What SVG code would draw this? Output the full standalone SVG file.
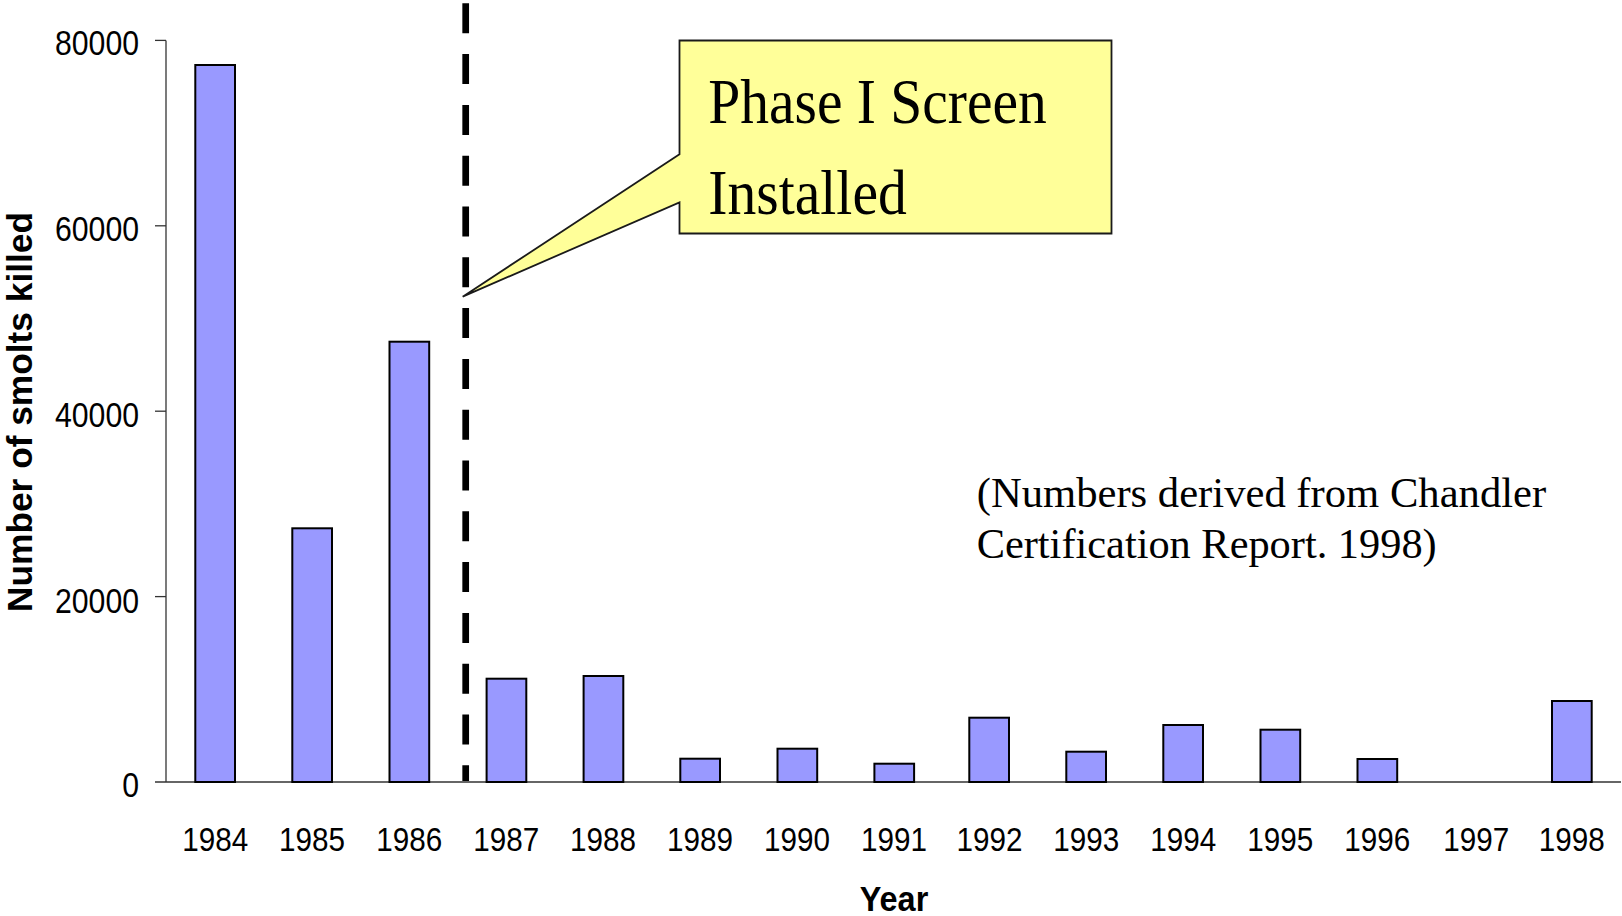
<svg xmlns="http://www.w3.org/2000/svg" width="1622" height="916" viewBox="0 0 1622 916">
  <style>
    .axis { stroke: #333333; stroke-width: 1.3; fill: none; }
    .bar { fill: #9999FF; stroke: #000000; stroke-width: 2; }
    .tick { font-family: "Liberation Sans", Arial, sans-serif; font-size: 35px; fill: #000000; text-anchor: end; }
    .year { font-family: "Liberation Sans", Arial, sans-serif; font-size: 34px; fill: #000000; text-anchor: middle; }
    .title { font-family: "Liberation Sans", Arial, sans-serif; font-weight: bold; font-size: 35px; fill: #000000; text-anchor: middle; }
    .serif { font-family: "Liberation Serif", "Times New Roman", serif; fill: #000000; }
    .marker-line { stroke: #000000; stroke-width: 6.7; stroke-dasharray: 30 20.8; fill: none; }
    .callout-shape { fill: #FFFF99; stroke: #1a1a1a; stroke-width: 1.8; stroke-linejoin: miter; }
  </style>

  <rect width="1622" height="916" fill="#ffffff"/>

  <!-- axes and ticks -->
  <g id="axes">
    <line class="axis" x1="166" y1="40.4" x2="166" y2="782"/>
    <line class="axis" x1="155" y1="782" x2="1621" y2="782"/>
    <line class="axis" x1="155" y1="40.4" x2="166" y2="40.4"/>
    <line class="axis" x1="155" y1="225.8" x2="166" y2="225.8"/>
    <line class="axis" x1="155" y1="411.2" x2="166" y2="411.2"/>
    <line class="axis" x1="155" y1="596.6" x2="166" y2="596.6"/>
    <text class="tick" x="139" y="55" textLength="84" lengthAdjust="spacingAndGlyphs">80000</text>
    <text class="tick" x="139" y="241" textLength="84" lengthAdjust="spacingAndGlyphs">60000</text>
    <text class="tick" x="139" y="426.5" textLength="84" lengthAdjust="spacingAndGlyphs">40000</text>
    <text class="tick" x="139" y="612.5" textLength="84" lengthAdjust="spacingAndGlyphs">20000</text>
    <text class="tick" x="139" y="797" textLength="16.8" lengthAdjust="spacingAndGlyphs">0</text>
  </g>

  <!-- axis titles -->
  <g id="axis-titles">
    <text class="title" transform="translate(31.7,412) rotate(-90)" x="0" y="0" textLength="400" lengthAdjust="spacingAndGlyphs">Number of smolts killed</text>
    <text class="title" x="894" y="910.5" textLength="68.5" lengthAdjust="spacingAndGlyphs">Year</text>
  </g>

  <!-- bars, one per year -->
  <g id="bars">
    <rect id="bar-1984" class="bar" x="195.3" y="65" width="39.7" height="717"/>
    <rect id="bar-1985" class="bar" x="292.3" y="528.3" width="39.7" height="253.7"/>
    <rect id="bar-1986" class="bar" x="389.5" y="341.7" width="39.7" height="440.3"/>
    <rect id="bar-1987" class="bar" x="486.6" y="678.7" width="39.7" height="103.3"/>
    <rect id="bar-1988" class="bar" x="583.6" y="676" width="39.7" height="106"/>
    <rect id="bar-1989" class="bar" x="680.3" y="758.7" width="39.7" height="23.3"/>
    <rect id="bar-1990" class="bar" x="777.5" y="748.7" width="39.7" height="33.3"/>
    <rect id="bar-1991" class="bar" x="874.4" y="763.7" width="39.7" height="18.3"/>
    <rect id="bar-1992" class="bar" x="969.3" y="717.7" width="39.7" height="64.3"/>
    <rect id="bar-1993" class="bar" x="1066.3" y="751.7" width="39.7" height="30.3"/>
    <rect id="bar-1994" class="bar" x="1163.3" y="725" width="39.7" height="57"/>
    <rect id="bar-1995" class="bar" x="1260.5" y="729.7" width="39.7" height="52.3"/>
    <rect id="bar-1996" class="bar" x="1357.5" y="759" width="39.7" height="23"/>
    <rect id="bar-1998" class="bar" x="1552" y="701" width="39.7" height="81"/>
  </g>

  <!-- year labels -->
  <g id="year-labels">
    <text class="year" x="215.2" y="850.7" textLength="66" lengthAdjust="spacingAndGlyphs">1984</text>
    <text class="year" x="312.1" y="850.7" textLength="66" lengthAdjust="spacingAndGlyphs">1985</text>
    <text class="year" x="409.3" y="850.7" textLength="66" lengthAdjust="spacingAndGlyphs">1986</text>
    <text class="year" x="506.2" y="850.7" textLength="66" lengthAdjust="spacingAndGlyphs">1987</text>
    <text class="year" x="603" y="850.7" textLength="66" lengthAdjust="spacingAndGlyphs">1988</text>
    <text class="year" x="700" y="850.7" textLength="66" lengthAdjust="spacingAndGlyphs">1989</text>
    <text class="year" x="797" y="850.7" textLength="66" lengthAdjust="spacingAndGlyphs">1990</text>
    <text class="year" x="894" y="850.7" textLength="66" lengthAdjust="spacingAndGlyphs">1991</text>
    <text class="year" x="989.5" y="850.7" textLength="66" lengthAdjust="spacingAndGlyphs">1992</text>
    <text class="year" x="1086.3" y="850.7" textLength="66" lengthAdjust="spacingAndGlyphs">1993</text>
    <text class="year" x="1183.3" y="850.7" textLength="66" lengthAdjust="spacingAndGlyphs">1994</text>
    <text class="year" x="1280.3" y="850.7" textLength="66" lengthAdjust="spacingAndGlyphs">1995</text>
    <text class="year" x="1377.3" y="850.7" textLength="66" lengthAdjust="spacingAndGlyphs">1996</text>
    <text class="year" x="1476.3" y="850.7" textLength="66" lengthAdjust="spacingAndGlyphs">1997</text>
    <text class="year" x="1571.8" y="850.7" textLength="66" lengthAdjust="spacingAndGlyphs">1998</text>
  </g>

  <!-- dashed marker between 1986 and 1987 -->
  <g id="connectors">
    <line class="marker-line" x1="465.7" y1="3.3" x2="465.7" y2="781"/>
  </g>

  <!-- callout box with pointer -->
  <g id="callout">
    <polygon class="callout-shape" points="679.5,40.5 1111.5,40.5 1111.5,233.5 679.5,233.5 679.5,202.3 462.7,296.7 679.5,154.3"/>
    <text class="serif" x="708.3" y="122.7" font-size="64" textLength="338.5" lengthAdjust="spacingAndGlyphs">Phase I Screen</text>
    <text class="serif" x="708.3" y="214.3" font-size="64" textLength="198.5" lengthAdjust="spacingAndGlyphs">Installed</text>
  </g>

  <!-- source note -->
  <g id="note">
    <text class="serif" x="976.7" y="507" font-size="42.5" textLength="569.5" lengthAdjust="spacingAndGlyphs">(Numbers derived from Chandler</text>
    <text class="serif" x="976.7" y="557.5" font-size="42.5" textLength="460" lengthAdjust="spacingAndGlyphs">Certification Report. 1998)</text>
  </g>
</svg>
